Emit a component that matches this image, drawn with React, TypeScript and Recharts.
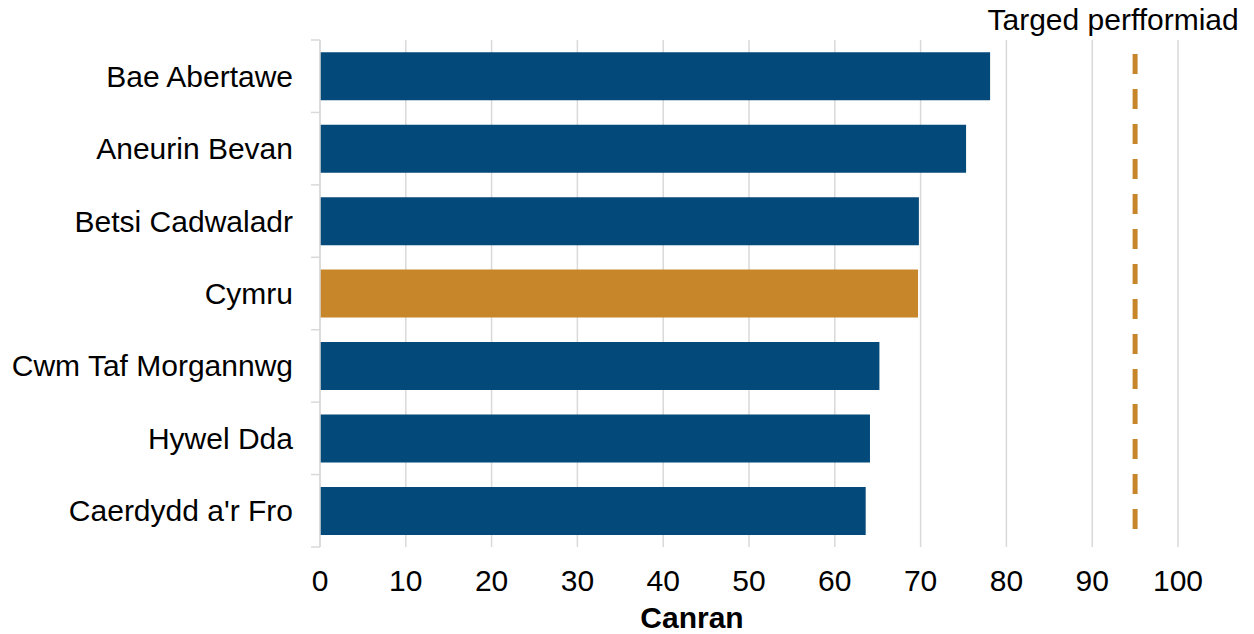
import React from 'react';
import { BarChart, Bar, Cell, XAxis, YAxis, CartesianGrid, ReferenceLine, Label } from 'recharts';

const categories = ['Bae Abertawe', 'Aneurin Bevan', 'Betsi Cadwaladr', 'Cymru', 'Cwm Taf Morgannwg', 'Hywel Dda', "Caerdydd a'r Fro"];
const values = [78.1, 75.3, 69.8, 69.7, 65.2, 64.1, 63.6];
const highlight = ['Cymru'];
const xTicks = [0, 10, 20, 30, 40, 50, 60, 70, 80, 90, 100];
const target = 95;
const targetLabel = 'Targed perfformiad';
const axisTitle = 'Canran';

const data = categories.map((name, i) => ({ name, value: values[i] }));

const FONT = '"Liberation Sans", Arial, sans-serif';
const BLUE = '#03497a';
const ORANGE = '#c8862a';
const GRID = '#d9d9d9';
const Y_TICK_SIZE = 9;
const Y_TICK_MARGIN = 18;

// dashes: short gap at the top, 14 dashes, then blank to the end
const dash = ['0', '18', ...Array.from({ length: 13 }, () => ['20', '15']).flat(), '20', '200'].join(' ');

const CategoryTick = (props: any) => {
  const { x, y, payload } = props;
  const half = payload.offset || 36;
  const x2 = x + Y_TICK_MARGIN + Y_TICK_SIZE;
  const x1 = x2 - Y_TICK_SIZE;
  const isLast = payload.value === categories[categories.length - 1];
  return (
    <g>
      <line x1={x1} x2={x2} y1={y - half} y2={y - half} stroke={GRID} strokeWidth={1.5} />
      {isLast && <line x1={x1} x2={x2} y1={y + half} y2={y + half} stroke={GRID} strokeWidth={1.5} />}
      <text x={x} y={y} dy="0.35em" textAnchor="end" fill="#000" fontSize={30} fontFamily={FONT}>
        {payload.value}
      </text>
    </g>
  );
};

const TargetLabel = (props: any) => {
  const { viewBox } = props;
  return (
    <text x={viewBox.x - 22} y={viewBox.y - 10} textAnchor="middle" fill="#000" fontSize={30} fontFamily={FONT}>
      {targetLabel}
    </text>
  );
};

export default function App() {
  return (
    <div style={{ position: 'absolute', left: 0, top: 0, background: '#fff' }}>
      <BarChart
        width={1254}
        height={634}
        data={data}
        layout="vertical"
        margin={{ top: 40, right: 76, bottom: 0, left: 0 }}
        barCategoryGap="17%"
      >
        <CartesianGrid horizontal={false} stroke={GRID} strokeWidth={1.5} />
        <XAxis
          type="number"
          domain={[0, 100]}
          ticks={xTicks}
          interval={0}
          axisLine={false}
          tickLine={false}
          tickSize={8}
          tickMargin={15}
          height={87}
          tick={{ fill: '#000', fontSize: 30, fontFamily: FONT }}
        >
          <Label
            value={axisTitle}
            position="insideBottom"
            offset={6}
            dx={-57}
            style={{ fill: '#000', fontSize: 30, fontWeight: 'bold', fontFamily: FONT }}
          />
        </XAxis>
        <YAxis
          type="category"
          dataKey="name"
          width={320}
          axisLine={{ stroke: GRID, strokeWidth: 1.5 }}
          tickLine={false}
          tickSize={Y_TICK_SIZE}
          tickMargin={Y_TICK_MARGIN}
          tick={<CategoryTick />}
          interval={0}
        />
        <Bar dataKey="value" isAnimationActive={false}>
          {data.map((d) => (
            <Cell key={d.name} fill={highlight.includes(d.name) ? ORANGE : BLUE} />
          ))}
        </Bar>
        <ReferenceLine
          x={target}
          stroke={ORANGE}
          strokeWidth={5}
          strokeDasharray={dash}
          label={<TargetLabel />}
        />
      </BarChart>
    </div>
  );
}
